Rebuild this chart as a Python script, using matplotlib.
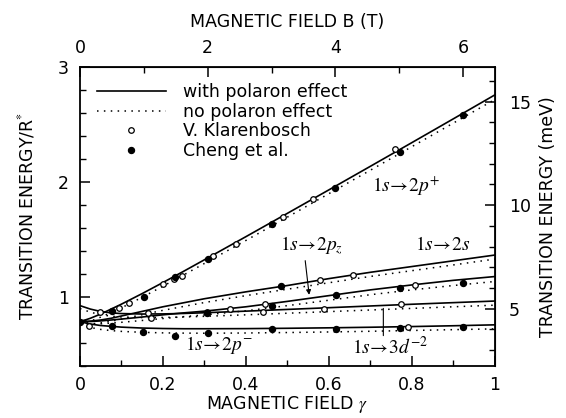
import numpy as np
from matplotlib import pyplot as plt
from matplotlib.lines import Line2D
from matplotlib.ticker import MultipleLocator, FixedLocator, FuncFormatter

plt.rcParams['font.family'] = 'DejaVu Sans'
plt.rcParams['mathtext.fontset'] = 'stix'

# Magnetic field in units of gamma
gam = [0, 0.025, 0.05, 0.075, 0.1, 0.15, 0.2, 0.25, 0.3, 0.4, 0.5, 0.6, 0.7, 0.8, 0.9, 1.0]

# Transition energies (R*), with polaron effect (solid) and without (dotted)
p_plus = [0.785, 0.815, 0.852, 0.895, 0.938, 1.03, 1.126, 1.224, 1.324, 1.525, 1.728, 1.932, 2.137, 2.343, 2.55, 2.758]
p_plus_np = [0.760, 0.790, 0.825, 0.865, 0.906, 0.998, 1.094, 1.192, 1.292, 1.492, 1.695, 1.899, 2.103, 2.308, 2.513, 2.718]
s2 = [0.785, 0.79, 0.80, 0.815, 0.835, 0.875, 0.915, 0.95, 0.985, 1.045, 1.10, 1.16, 1.215, 1.265, 1.315, 1.365]
s2_np = [0.760, 0.765, 0.775, 0.789, 0.808, 0.846, 0.884, 0.918, 0.952, 1.012, 1.068, 1.124, 1.179, 1.229, 1.279, 1.33]
pz = [0.785, 0.787, 0.792, 0.80, 0.808, 0.826, 0.845, 0.862, 0.877, 0.915, 0.962, 1.012, 1.062, 1.105, 1.145, 1.178]
pz_np = [0.760, 0.762, 0.767, 0.773, 0.780, 0.796, 0.813, 0.829, 0.844, 0.880, 0.925, 0.972, 1.02, 1.062, 1.10, 1.135]
d3 = [0.925, 0.895, 0.874, 0.862, 0.856, 0.852, 0.853, 0.857, 0.863, 0.877, 0.892, 0.907, 0.922, 0.937, 0.951, 0.965]
d3_np = [0.900, 0.868, 0.846, 0.833, 0.826, 0.821, 0.822, 0.826, 0.832, 0.845, 0.859, 0.873, 0.887, 0.901, 0.915, 0.929]
p_minus = [0.785, 0.765, 0.752, 0.745, 0.738, 0.730, 0.726, 0.724, 0.724, 0.725, 0.728, 0.732, 0.737, 0.743, 0.750, 0.758]
p_minus_np = [0.760, 0.735, 0.718, 0.708, 0.701, 0.693, 0.688, 0.686, 0.685, 0.687, 0.691, 0.696, 0.702, 0.709, 0.716, 0.723]

# Experimental points
gam_klar = [0.022, 0.048, 0.094, 0.118, 0.165, 0.17, 0.2, 0.226, 0.245, 0.305, 0.321, 0.361,
            0.376, 0.44, 0.446, 0.49, 0.561, 0.578, 0.588, 0.659, 0.758, 0.773, 0.791, 0.807]
E_klar = [0.75, 0.867, 0.907, 0.945, 0.858, 0.815, 1.11, 1.16, 1.185, 0.872, 1.359, 0.90,
          1.461, 0.872, 0.942, 1.70, 1.852, 1.148, 0.90, 1.19, 2.284, 0.94, 0.742, 1.104]
gam_cheng = [0.0, 0.076, 0.076, 0.153, 0.154, 0.229, 0.23, 0.305, 0.308, 0.309, 0.462, 0.462,
             0.463, 0.484, 0.614, 0.616, 0.617, 0.77, 0.77, 0.77, 0.922, 0.922, 0.924]
E_cheng = [0.785, 0.875, 0.75, 0.692, 1.003, 1.17, 0.658, 0.858, 0.684, 1.328, 1.632, 0.724,
           0.925, 1.098, 1.951, 1.017, 0.726, 2.258, 1.075, 0.728, 2.583, 1.125, 0.742]

tesla_per_gamma = 6.5
mev_per_ry = 5.56

fig = plt.figure(figsize=(5.66, 4.18), dpi=100)
ax = fig.add_axes([0.1413, 0.1244, 0.7332, 0.7153])

dots = (0, (1, 3.5))
for solid, dotted in [(p_plus, p_plus_np), (s2, s2_np), (pz, pz_np), (d3, d3_np), (p_minus, p_minus_np)]:
    ax.plot(gam, solid, color='black', lw=1.2)
    ax.plot(gam, dotted, color='black', lw=1.1, linestyle=dots)

ax.plot(gam_klar, E_klar, 'o', ms=4, mfc='white', mec='black', mew=0.9, linestyle='none')
ax.plot(gam_cheng, E_cheng, 'o', ms=4.3, color='black', linestyle='none')

ax.set_xlim(0, 1)
ax.set_ylim(0.4, 3)

# curve labels
fs = 14
ax.text(0.703, 1.965, r'$1s\!\rightarrow\!2p^{+}$', fontsize=fs, va='center')
ax.text(0.482, 1.445, r'$1s\!\rightarrow\!2p_{z}$', fontsize=fs, va='center')
ax.text(0.807, 1.46, r'$1s\!\rightarrow\!2s$', fontsize=fs, va='center')
ax.text(0.253, 0.583, r'$1s\!\rightarrow\!2p^{-}$', fontsize=fs, va='center')
ax.text(0.655, 0.565, r'$1s\!\rightarrow\!3d^{-2}$', fontsize=fs, va='center')
ax.annotate('', xy=(0.553, 0.995), xytext=(0.542, 1.34),
            arrowprops=dict(arrowstyle='-|>', color='black', lw=0.8, mutation_scale=7))
ax.annotate('', xy=(0.731, 0.925), xytext=(0.731, 0.64),
            arrowprops=dict(arrowstyle='-', color='black', lw=0.8))

# axes, ticks
for s in ax.spines.values():
    s.set_linewidth(1.3)
ax.xaxis.set_major_locator(MultipleLocator(0.2))
ax.xaxis.set_minor_locator(MultipleLocator(0.1))
ax.yaxis.set_major_locator(FixedLocator([1, 2, 3]))
ax.yaxis.set_minor_locator(MultipleLocator(0.2))
ax.xaxis.set_major_formatter(FuncFormatter(lambda v, p: '%g' % round(v, 2)))
ax.yaxis.set_major_formatter(FuncFormatter(lambda v, p: '%g' % v))
ax.tick_params(which='both', direction='in', top=False, right=False, labelsize=12.5)
ax.tick_params(which='major', length=7, width=1.1)
ax.tick_params(which='minor', length=4, width=1.0)
ax.tick_params(axis='x', pad=7)
ax.tick_params(axis='y', pad=8)
ax.set_xlabel(r'MAGNETIC FIELD $\gamma$', fontsize=12.5, labelpad=0)
ax.set_ylabel('TRANSITION ENERGY/R$^{*}$', fontsize=12.5, labelpad=15)

top = ax.secondary_xaxis('top', functions=(lambda g: g * tesla_per_gamma, lambda b: b / tesla_per_gamma))
top.xaxis.set_major_locator(FixedLocator([0, 2, 4, 6]))
top.xaxis.set_minor_locator(FixedLocator([1, 3, 5]))
top.tick_params(which='both', direction='in', labelsize=12.5, pad=7)
top.tick_params(which='major', length=7, width=1.1)
top.tick_params(which='minor', length=4, width=1.0)
top.set_xlabel('MAGNETIC FIELD B (T)', fontsize=12.5, labelpad=9)

right = ax.secondary_yaxis('right', functions=(lambda e: e * mev_per_ry, lambda m: m / mev_per_ry))
right.yaxis.set_major_locator(FixedLocator([5, 10, 15]))
right.yaxis.set_minor_locator(MultipleLocator(1))
right.tick_params(which='both', direction='in', labelsize=12.5, pad=10)
right.tick_params(which='major', length=7, width=1.1)
right.tick_params(which='minor', length=4, width=1.0)
right.set_ylabel('TRANSITION ENERGY (meV)', fontsize=12.5, labelpad=6)

# legend
handles = [Line2D([], [], color='black', lw=1.2),
           Line2D([], [], color='black', lw=1.1, linestyle=dots),
           Line2D([], [], marker='o', ms=4, mfc='white', mec='black', mew=0.9, linestyle='none'),
           Line2D([], [], marker='o', ms=4.3, color='black', linestyle='none')]
labels = ['with polaron effect', 'no polaron effect', 'V. Klarenbosch', 'Cheng et al.']
ax.legend(handles, labels, loc='upper left', bbox_to_anchor=(0.04, 0.945), frameon=False,
          fontsize=12.5, handlelength=4, handletextpad=1.0, labelspacing=0.08, borderpad=0,
          borderaxespad=0)

fig.savefig('out.png', dpi=100)
